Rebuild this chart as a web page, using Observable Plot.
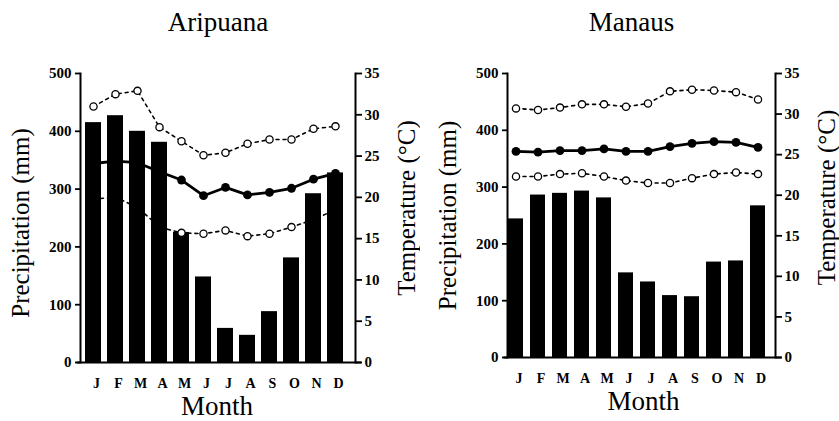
<!DOCTYPE html>
<html>
<head>
<meta charset="utf-8">
<script src="https://cdn.jsdelivr.net/npm/d3@7"></script>
<script src="https://cdn.jsdelivr.net/npm/@observablehq/plot@0.6"></script>
<style>
  body { margin: 0; background: #fff; }
  #wrap { display: flex; width: 839px; height: 421px; }
  svg { font-family: "Liberation Serif", serif; }
</style>
</head>
<body>
<div id="wrap"></div>
<script>
// ---- data ----
const months = ["Jan","Feb","Mar","Apr","May","Jun","Jul","Aug","Sep","Oct","Nov","Dec"];
const monthLabels = ["J","F","M","A","M","J","J","A","S","O","N","D"];
const precipTicks = [0, 100, 200, 300, 400, 500];
const tempTicks = [0, 5, 10, 15, 20, 25, 30, 35];

const aripuanaPrecip = [415, 427, 400, 381, 225, 148, 59, 47, 88, 181, 292, 328];
const aripuanaMean   = [24.1, 24.4, 24.2, 23.1, 22.1, 20.2, 21.2, 20.3, 20.6, 21.1, 22.2, 22.9];
const aripuanaMax    = [31.0, 32.5, 32.9, 28.5, 26.8, 25.1, 25.4, 26.5, 27.0, 27.0, 28.3, 28.6];
const aripuanaMin    = [19.8, 20.0, 18.8, 16.4, 15.7, 15.6, 16.0, 15.3, 15.6, 16.4, 17.3, 18.5];

const manausPrecip = [244, 286, 289, 293, 281, 149, 133, 109, 107, 168, 170, 267];
const manausMean   = [25.4, 25.3, 25.5, 25.5, 25.7, 25.4, 25.4, 26.0, 26.4, 26.6, 26.5, 25.9];
const manausMax    = [30.7, 30.5, 30.8, 31.2, 31.2, 30.9, 31.3, 32.8, 33.0, 32.9, 32.7, 31.8];
const manausMin    = [22.3, 22.3, 22.6, 22.7, 22.3, 21.8, 21.5, 21.5, 22.1, 22.6, 22.8, 22.6];

// temperature (0-35 °C) shares the frame with precipitation (0-500 mm)
const toMM = t => t * 500 / 35;
const FONT = "Liberation Serif";

function panel(cfg) {
  const bars = months.map((m, i) => ({month: m, p: cfg.precip[i]}));
  const mk = arr => months.map((m, i) => ({month: m, y: toMM(arr[i]), p: cfg.precip[i]}));
  const meanRows = mk(cfg.mean), maxRows = mk(cfg.max), minRows = mk(cfg.min);
  const visible = d => d.y > d.p - 8;
  const txt = {fontFamily: FONT, textAnchor: "middle", lineAnchor: "middle"};
  return Plot.plot({
    width: cfg.width, height: 421,
    marginLeft: cfg.ml, marginRight: cfg.mr, marginTop: cfg.mt, marginBottom: cfg.mb,
    style: {fontFamily: FONT, color: "black", background: "white"},
    x: {type: "band", domain: months, range: cfg.xRange, paddingInner: cfg.pad, paddingOuter: cfg.pad / 2},
    y: {domain: [0, 500]},
    marks: [
      Plot.lineY(maxRows, {x: "month", y: "y", stroke: "black", strokeWidth: 1.6, strokeDasharray: "3,4"}),
      Plot.lineY(minRows, {x: "month", y: "y", stroke: "black", strokeWidth: 1.6, strokeDasharray: "3,4"}),
      Plot.lineY(meanRows, {x: "month", y: "y", stroke: "black", strokeWidth: 2.8}),
      Plot.barY(bars, {x: "month", y: "p", fill: "black"}),
      Plot.dot(maxRows, {x: "month", y: "y", filter: visible, r: 3.6, fill: "white", stroke: "black", strokeWidth: 1.3}),
      Plot.dot(minRows, {x: "month", y: "y", filter: visible, r: 3.6, fill: "white", stroke: "black", strokeWidth: 1.3}),
      Plot.dot(meanRows, {x: "month", y: "y", filter: visible, r: 4.4, fill: "black"}),
      Plot.frame({anchor: "left", strokeWidth: 2}),
      Plot.frame({anchor: "right", strokeWidth: 2}),
      Plot.frame({anchor: "bottom", strokeWidth: 2, insetLeft: -3, insetRight: -5}),
      Plot.axisY({anchor: "left", ticks: precipTicks, tickSize: 5, tickPadding: 4, strokeWidth: 1.8,
        fontSize: 15, fontWeight: "bold", label: null, letterSpacing: "1px"}),
      Plot.axisY({anchor: "right", ticks: tempTicks.map(toMM), tickFormat: d => Math.round(d * 35 / 500),
        tickSize: 6, tickPadding: 3, strokeWidth: 1.8, fontSize: 15, fontWeight: "bold", label: null, letterSpacing: "1px"}),
      Plot.axisX({anchor: "bottom", tickSize: 0, tickPadding: 16, tickFormat: (d, i) => monthLabels[months.indexOf(d)],
        fontSize: 14, fontWeight: "bold", label: null, dx: 3}),
      Plot.text([cfg.title], {...txt, frameAnchor: "top", dx: cfg.titleDx, dy: -51, fontSize: 27}),
      Plot.text(["Month"], {...txt, frameAnchor: "bottom", dx: cfg.monthDx, dy: 44, fontSize: 27}),
      Plot.text(["Precipitation (mm)"], {...txt, frameAnchor: "left", dx: cfg.pDx, dy: cfg.pDy, rotate: -90, fontSize: 25}),
      Plot.text(["Temperature (°C)"], {...txt, frameAnchor: "right", dx: 51, dy: cfg.tDy, rotate: -90, fontSize: 25})
    ]
  });
}

const wrap = document.getElementById("wrap");
wrap.append(panel({
  title: "Aripuana", precip: aripuanaPrecip, mean: aripuanaMean, max: aripuanaMax, min: aripuanaMin,
  width: 420, ml: 80, mr: 65, mt: 73, mb: 59, xRange: [79, 349], pad: 0.27,
  titleDx: 0, monthDx: -1, pDx: -60, pDy: 5, tDy: -10
}));
wrap.append(panel({
  title: "Manaus", precip: manausPrecip, mean: manausMean, max: manausMax, min: manausMin,
  width: 419, ml: 87, mr: 64, mt: 73, mb: 64, xRange: [83, 351], pad: 0.3,
  titleDx: -10, monthDx: 2, pDx: -60, pDy: 0, tDy: -18
}));
</script>
</body>
</html>
